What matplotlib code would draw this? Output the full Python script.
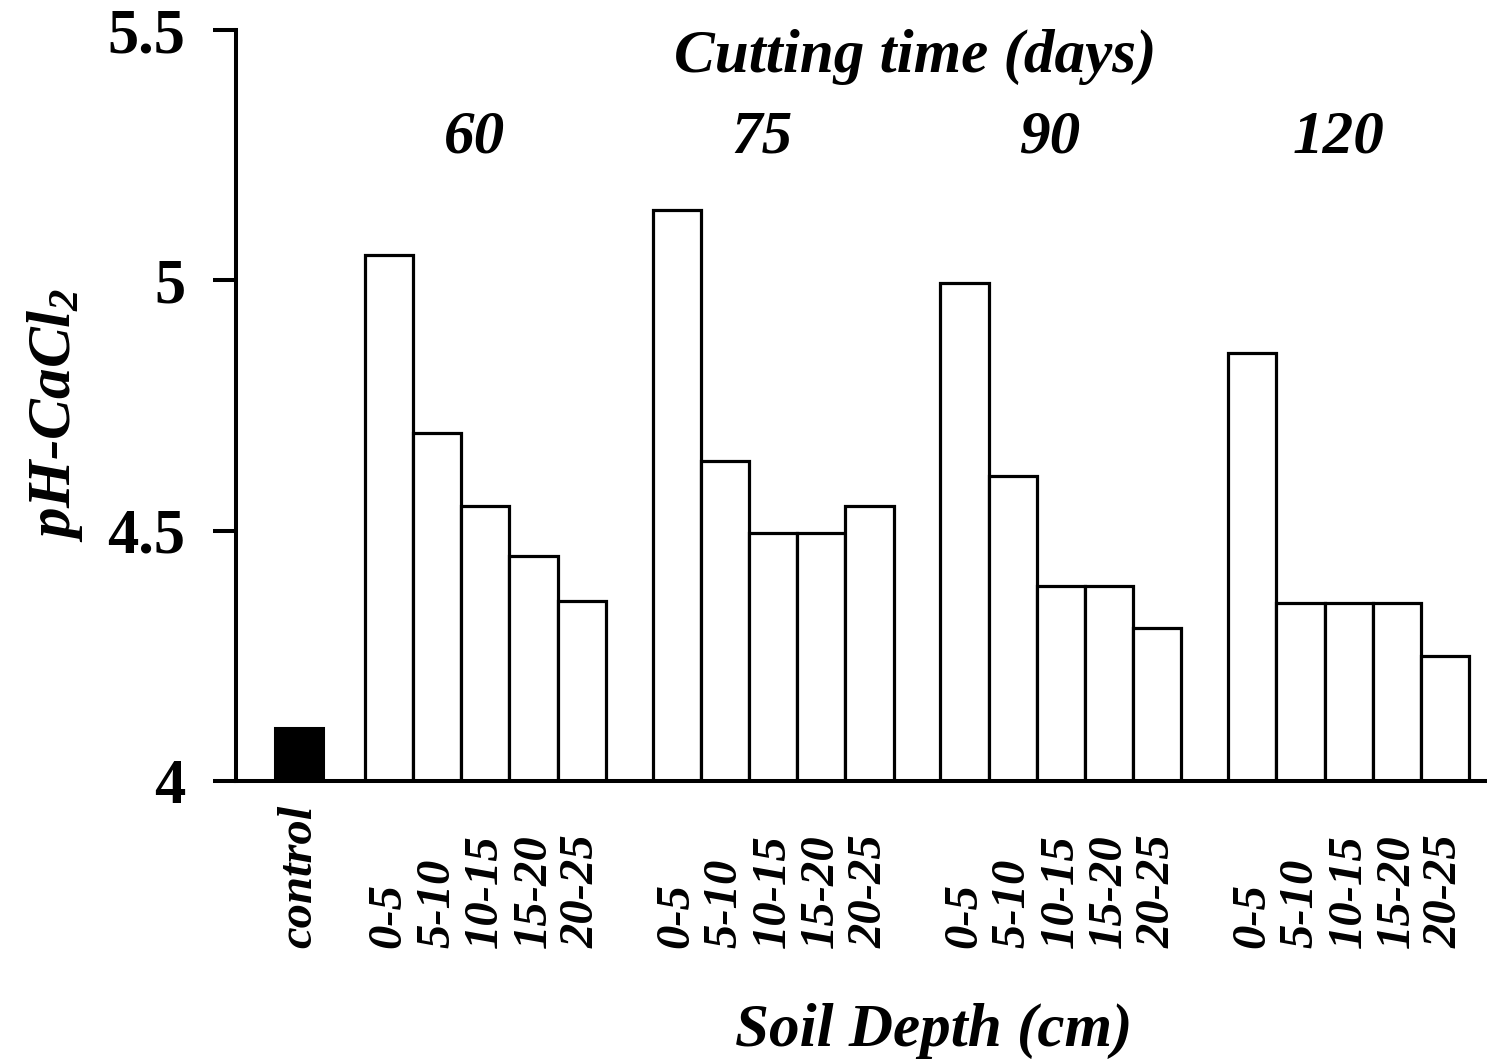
import matplotlib
matplotlib.use("Agg")
import matplotlib.pyplot as plt
import matplotlib.transforms as mtransforms

# values
control_ph = 4.105
days = ["60", "75", "90", "120"]
depths = ["0-5", "5-10", "10-15", "15-20", "20-25"]
ph_60 = [5.05, 4.695, 4.55, 4.45, 4.36]
ph_75 = [5.14, 4.64, 4.495, 4.495, 4.55]
ph_90 = [4.995, 4.61, 4.39, 4.39, 4.305]
ph_120 = [4.855, 4.355, 4.355, 4.355, 4.25]
groups = [ph_60, ph_75, ph_90, ph_120]

plt.rcParams['font.family'] = ['Liberation Serif', 'DejaVu Serif']
plt.rcParams['mathtext.fontset'] = 'custom'
plt.rcParams['mathtext.it'] = 'Liberation Serif:bold:italic'
plt.rcParams['mathtext.rm'] = 'Liberation Serif:bold:italic'
plt.rcParams['mathtext.default'] = 'it'

fig = plt.figure(figsize=(14.87, 10.61), dpi=100)
ax = fig.add_axes([0.1587, 0.2639, 0.8413, 0.7078])

# slot layout: control, then groups of five bars
ctrl_x = 1.31
start = 3.17
step = 5.97

ax.bar(ctrl_x, control_ph - 4, bottom=4, width=1.0, color='black',
       edgecolor='black', linewidth=2.2)

trans = mtransforms.blended_transform_factory(ax.transData, fig.transFigure)

xs = []
labels = []
for g, vals in enumerate(groups):
    pos = [start + step * g + i for i in range(len(vals))]
    ax.bar(pos, [v - 4 for v in vals], bottom=4, width=1.0, color='white',
           edgecolor='black', linewidth=2.3)
    xs += pos
    labels += depths
    ax.text(pos[2] - 0.22, 0.856, days[g], transform=trans,
            ha='center', va='baseline', fontsize=44, fontweight='bold', style='italic')

ax.set_xlim(0, 25.95)
ax.set_ylim(4, 5.5)
ax.set_yticks([4, 4.5, 5, 5.5])
ax.set_yticklabels(['4', '4.5', '5', '5.5'])
ax.tick_params(axis='y', direction='out', length=16.5, width=2.9, pad=20,
               labelsize=45)
for t in ax.get_yticklabels():
    t.set_fontweight('bold')
ax.set_xticks([])

for s in ['top', 'right']:
    ax.spines[s].set_visible(False)
for s in ['left', 'bottom']:
    ax.spines[s].set_linewidth(2.9)

# rotated category labels, starting at a common baseline below the axis
y_lab = 1 - 948 / 1061
ax.text(ctrl_x, y_lab, 'control', transform=trans, rotation=90,
        rotation_mode='anchor', ha='left', va='center', fontsize=35,
        fontweight='bold', style='italic')
for x, lab in zip(xs, labels):
    ax.text(x, y_lab, lab, transform=trans, rotation=90,
            rotation_mode='anchor', ha='left', va='center', fontsize=35,
            fontweight='bold', style='italic')

fig.text(915 / 1487, 1 - 72 / 1061, 'Cutting time (days)', ha='center',
         va='baseline', fontsize=44, fontweight='bold', style='italic')
fig.text(934 / 1487, 1 - 1046 / 1061, 'Soil Depth (cm)', ha='center',
         va='baseline', fontsize=44, fontweight='bold', style='italic')
fig.text(55 / 1487, 1 - 415 / 1061, 'pH-Ca$Cl_2$', rotation=90, ha='center',
         va='center', fontsize=44, fontweight='bold', style='italic')

fig.savefig('out.png', dpi=100)
